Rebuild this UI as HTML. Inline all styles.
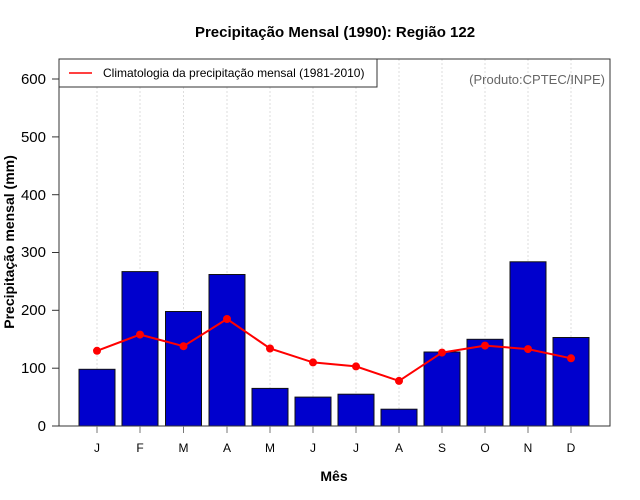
<!DOCTYPE html>
<html><head><meta charset="utf-8"><style>body{margin:0;background:#fff}svg{display:block}</style></head><body>
<svg width="640" height="500" xmlns="http://www.w3.org/2000/svg" font-family="Liberation Sans, Arial, sans-serif">
<rect width="640" height="500" fill="#fff"/>
<text x="335" y="37" text-anchor="middle" font-size="15" font-weight="bold">Precipitação Mensal (1990): Região 122</text>
<g stroke="#ddd" stroke-dasharray="2,2" stroke-width="1">
<line x1="97" y1="59" x2="97" y2="426"/><line x1="140" y1="59" x2="140" y2="426"/><line x1="183.5" y1="59" x2="183.5" y2="426"/><line x1="227" y1="59" x2="227" y2="426"/><line x1="270" y1="59" x2="270" y2="426"/><line x1="313" y1="59" x2="313" y2="426"/><line x1="356" y1="59" x2="356" y2="426"/><line x1="399" y1="59" x2="399" y2="426"/><line x1="442" y1="59" x2="442" y2="426"/><line x1="485" y1="59" x2="485" y2="426"/><line x1="528" y1="59" x2="528" y2="426"/><line x1="571" y1="59" x2="571" y2="426"/>
</g>
<g fill="#0000CD" stroke="#111" stroke-width="1">
<rect x="79" y="369.3" width="36" height="56.7"/>
<rect x="122" y="271.6" width="36" height="154.4"/>
<rect x="165.5" y="311.5" width="36" height="114.5"/>
<rect x="209" y="274.5" width="36" height="151.5"/>
<rect x="252" y="388.4" width="36" height="37.6"/>
<rect x="295" y="397.1" width="36" height="28.9"/>
<rect x="338" y="394.2" width="36" height="31.8"/>
<rect x="381" y="409.2" width="36" height="16.8"/>
<rect x="424" y="352" width="36" height="74"/>
<rect x="467" y="339.3" width="36" height="86.7"/>
<rect x="510" y="261.8" width="36" height="164.2"/>
<rect x="553" y="337.5" width="36" height="88.5"/>
</g>
<polyline fill="none" stroke="#f00" stroke-width="2" points="97,350.8 140,334.6 183.5,346.2 227,319 270,348.5 313,362.4 356,366.4 399,380.9 442,352.6 485,345.6 528,349.1 571,358.3"/>
<g fill="#f00">
<circle cx="97" cy="350.8" r="4"/><circle cx="140" cy="334.6" r="4"/><circle cx="183.5" cy="346.2" r="4"/><circle cx="227" cy="319" r="4"/><circle cx="270" cy="348.5" r="4"/><circle cx="313" cy="362.4" r="4"/><circle cx="356" cy="366.4" r="4"/><circle cx="399" cy="380.9" r="4"/><circle cx="442" cy="352.6" r="4"/><circle cx="485" cy="345.6" r="4"/><circle cx="528" cy="349.1" r="4"/><circle cx="571" cy="358.3" r="4"/>
</g>
<rect x="59" y="59" width="551" height="367" fill="none" stroke="#333" stroke-width="1"/>
<g stroke="#333" stroke-width="1">
<line x1="52" y1="426" x2="610" y2="426"/>
<line x1="52" y1="426" x2="59" y2="426"/><line x1="52" y1="368.2" x2="59" y2="368.2"/><line x1="52" y1="310.3" x2="59" y2="310.3"/><line x1="52" y1="252.5" x2="59" y2="252.5"/><line x1="52" y1="194.7" x2="59" y2="194.7"/><line x1="52" y1="136.9" x2="59" y2="136.9"/><line x1="52" y1="79" x2="59" y2="79"/>
</g>
<g stroke="#777"><line x1="97" y1="426" x2="97" y2="433"/><line x1="140" y1="426" x2="140" y2="433"/><line x1="183.5" y1="426" x2="183.5" y2="433"/><line x1="227" y1="426" x2="227" y2="433"/><line x1="270" y1="426" x2="270" y2="433"/><line x1="313" y1="426" x2="313" y2="433"/><line x1="356" y1="426" x2="356" y2="433"/><line x1="399" y1="426" x2="399" y2="433"/><line x1="442" y1="426" x2="442" y2="433"/><line x1="485" y1="426" x2="485" y2="433"/><line x1="528" y1="426" x2="528" y2="433"/><line x1="571" y1="426" x2="571" y2="433"/></g>
<g font-size="15" text-anchor="end">
<text x="46" y="431">0</text><text x="46" y="373">100</text><text x="46" y="315">200</text><text x="46" y="257">300</text><text x="46" y="200">400</text><text x="46" y="142">500</text><text x="46" y="84">600</text>
</g>
<g font-size="12" text-anchor="middle">
<text x="97" y="452">J</text><text x="140" y="452">F</text><text x="183.5" y="452">M</text><text x="227" y="452">A</text><text x="270" y="452">M</text><text x="313" y="452">J</text><text x="356" y="452">J</text><text x="399" y="452">A</text><text x="442" y="452">S</text><text x="485" y="452">O</text><text x="528" y="452">N</text><text x="571" y="452">D</text>
</g>
<text x="334" y="481" text-anchor="middle" font-size="14" font-weight="bold">Mês</text>
<text transform="translate(14,242) rotate(-90)" text-anchor="middle" font-size="14" font-weight="bold">Precipitação mensal (mm)</text>
<rect x="59" y="59" width="318" height="28" fill="#fff" stroke="#333"/>
<line x1="69" y1="73" x2="92" y2="73" stroke="#f00" stroke-width="1.5"/>
<text x="103" y="77" font-size="12">Climatologia da precipitação mensal (1981-2010)</text>
<text x="605" y="84" text-anchor="end" font-size="13" fill="#666">(Produto:CPTEC/INPE)</text>
</svg>
</body></html>
